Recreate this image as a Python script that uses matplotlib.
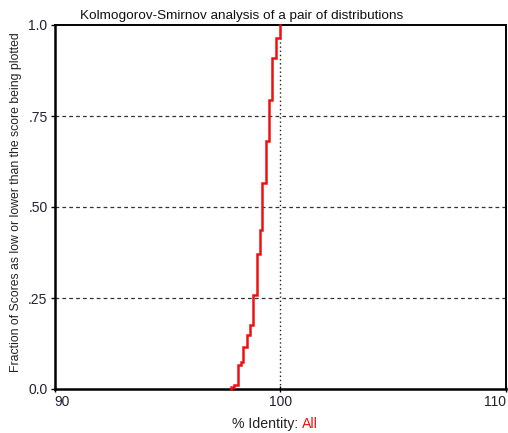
"""Kolmogorov-Smirnov cumulative fraction plot (single distribution)."""
import matplotlib
matplotlib.use("Agg")
import matplotlib.pyplot as plt

plt.rcParams["font.family"] = ["Liberation Sans", "DejaVu Sans"]

# score at each step and cumulative fraction reached after it
scores = [97.82, 97.97, 98.11, 98.24, 98.36, 98.51, 98.66, 98.81, 98.98,
          99.09, 99.21, 99.35, 99.50, 99.65, 99.80, 100.0]
fractions = [0.005, 0.011, 0.066, 0.075, 0.116, 0.148, 0.176, 0.258, 0.371,
             0.437, 0.565, 0.680, 0.794, 0.910, 0.965, 1.0]

xticks = [90, 100, 110]
yticks = [0.0, 0.25, 0.50, 0.75, 1.0]
ytick_labels = ["0.0", ".25", ".50", ".75", "1.0"]

title = "Kolmogorov-Smirnov analysis of a pair of distributions"
ylabel = "Fraction of Scores as low or lower than the score being plotted"

fig = plt.figure(figsize=(5.08, 4.33), dpi=100)
ax = fig.add_axes([54.5 / 508, 44 / 433, (506 - 54.5) / 508, (389 - 25) / 433])

# step line: start on the axis, rise at each score
xs = [scores[0]] + scores
ys = [0.0] + fractions
ax.step(xs, ys, where="post", color="#ee1111", linewidth=1.8, zorder=3,
        clip_on=False, solid_joinstyle="miter")

# reference lines
for yv in yticks[1:-1]:
    ax.axhline(yv, color="#333333", linewidth=0.9, linestyle=(0, (3, 2.5)), zorder=1)
ax.axvline(100, color="#222222", linewidth=1.0, linestyle=(0, (1, 2)), zorder=1)

ax.set_xlim(90, 110)
ax.set_ylim(0, 1)
ax.set_xticks(xticks)
ax.set_xticklabels([str(v) for v in xticks], fontsize=10, color="#222233")
labels = ax.get_xticklabels()
labels[0].set_horizontalalignment("left")
labels[-1].set_horizontalalignment("right")
ax.set_yticks(yticks)
ax.set_yticklabels(ytick_labels, fontsize=10, color="#222233")
ax.tick_params(axis="y", direction="out", length=3, width=1, pad=2)
ax.tick_params(axis="x", direction="inout", length=5, width=1, pad=2)

for side in ["left", "bottom"]:
    ax.spines[side].set_linewidth(1.8)
for side in ["top", "right"]:
    ax.spines[side].set_linewidth(1.4)

fig.text(80 / 508, 1 - 16 / 433, title, fontsize=9.7, ha="left", va="center",
         color="#111111")
fig.text(16 / 508, 1 - 202 / 433, ylabel, fontsize=8.8, rotation=90,
         ha="center", va="center", color="#222222")

xl = fig.text(232 / 508, 1 - 424 / 433, "% Identity: ", fontsize=10.2,
              ha="left", va="center", color="#222222")
ax.annotate("All", xy=(1, 0), xycoords=xl, ha="left", va="bottom",
            fontsize=10.2, color="#ee1111")

fig.savefig("out.png", dpi=100)
